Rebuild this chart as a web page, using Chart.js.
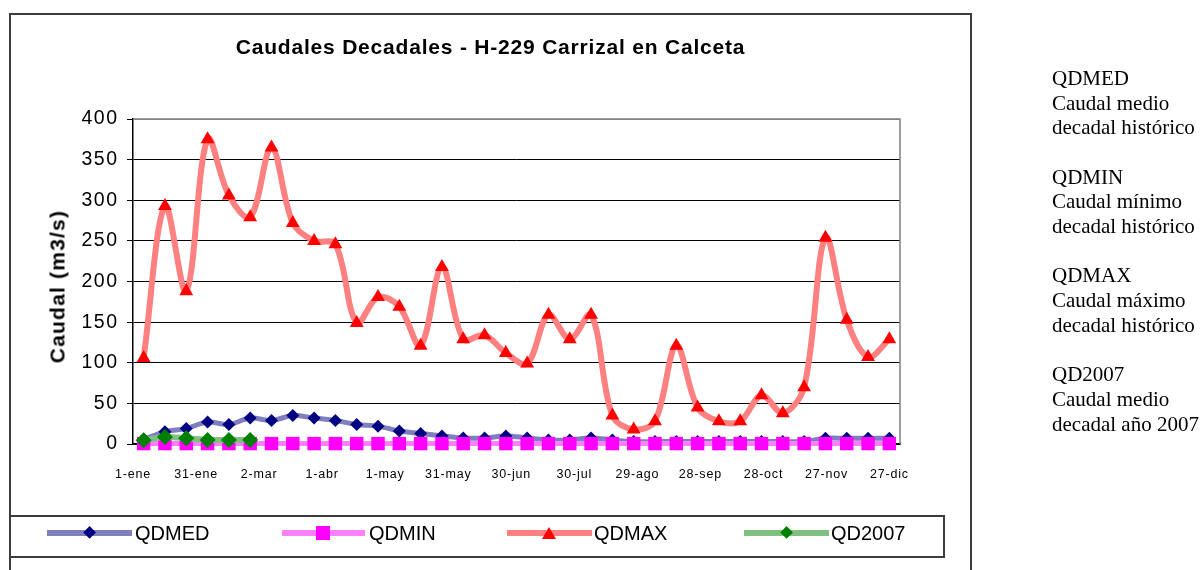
<!DOCTYPE html>
<html>
<head>
<meta charset="utf-8">
<script src="https://cdn.jsdelivr.net/npm/chart.js@4.4.1/dist/chart.umd.min.js"></script>
<style>
html,body{margin:0;padding:0;background:#fff;width:1202px;height:570px;overflow:hidden;}
#wrap{position:relative;width:1202px;height:570px;overflow:hidden;}
#frame{position:absolute;left:9px;top:13px;width:963px;height:600px;border:2px solid #3c3c3c;box-sizing:border-box;}
#legendBox{position:absolute;left:9px;top:515px;width:936px;height:43px;border:2px solid #3c3c3c;box-sizing:border-box;}
canvas{position:absolute;left:0;top:0;}
.sans{font-family:Arial,"Liberation Sans",sans-serif;color:#000;}
#title{position:absolute;left:10px;width:961px;top:35.5px;line-height:21px;text-align:center;font-weight:bold;font-size:21px;letter-spacing:0.8px;}
#ytitle{position:absolute;left:-43.2px;top:274.2px;width:200px;height:25px;line-height:25px;text-align:center;font-weight:bold;font-size:21px;letter-spacing:1.2px;transform:rotate(-90deg);white-space:nowrap;}
.lline{position:absolute;height:6px;top:529.7px;}
.ltext{position:absolute;top:523px;font-size:20px;line-height:20px;white-space:nowrap;}
.dia{position:absolute;width:9.2px;height:9.2px;transform:rotate(45deg);}
#note{position:absolute;left:1052px;top:66.1px;font-family:"Liberation Serif","Times New Roman",serif;font-size:21px;line-height:24.67px;white-space:pre;color:#000;}
</style>
</head>
<body>
<div id="wrap">
  <div id="frame"></div>
  <canvas id="c" width="1202" height="570"></canvas>
  <div id="title" class="sans">Caudales Decadales - H-229 Carrizal en Calceta</div>
  <div id="ytitle" class="sans">Caudal (m3/s)</div>
  <div id="legendBox"></div>
  <div id="legend"></div>
  <div id="note">QDMED
Caudal medio
decadal histórico

QDMIN
Caudal mínimo
decadal histórico

QDMAX
Caudal máximo
decadal histórico

QD2007
Caudal medio
decadal año 2007</div>
</div>
<script>
// ---- data ----
const categories = ["1-ene","11-ene","21-ene","1-feb","11-feb","21-feb","1-mar","11-mar","21-mar",
  "1-abr","11-abr","21-abr","1-may","11-may","21-may","1-jun","11-jun","21-jun",
  "1-jul","11-jul","21-jul","1-ago","11-ago","21-ago","1-sep","11-sep","21-sep",
  "1-oct","11-oct","21-oct","1-nov","11-nov","21-nov","1-dic","11-dic","21-dic"];
const tickLabels = ["1-ene","31-ene","2-mar","1-abr","1-may","31-may","30-jun","30-jul","29-ago","28-sep","28-oct","27-nov","27-dic"];
const tickDays = [0,30,60,90,120,150,180,210,240,270,300,330,360];
const yTicks = [0,50,100,150,200,250,300,350,400];

const qdmed = [6,15,19,27,24,32,29,35,32,29,24,22,16,13,10,7.5,7.5,10,7.5,5,5,7.5,5,3,3,3,3,3,3,3,3,3,7,7,7,7];
const qdmin = [0.5,0.5,0.5,0.5,0.5,0.5,0.5,0.5,0.5,0.5,0.5,0.5,0.5,0.5,0.5,0.5,0.5,0.5,
  0.5,0.5,0.5,0.5,0.5,0.5,0.5,0.5,0.5,0.5,0.5,0.5,0.5,0.5,0.5,0.5,0.5,0.5];
const qdmax = [106,293,188,375,306,279,365,272,250,246,149,181,169,121,218,129,134,112,
  99,159,129,159,35,18,28,121,45,28,28,60,38,70,254,153,107,129];
const qd2007 = [4.5,8.5,7,5,5,5];

const seriesNames = ["QDMED","QDMIN","QDMAX","QD2007"];

// ---- legend (HTML) ----
const legendSpec = [
  {line:[47,132], mark:89.7, text:135, lc:'#7f7fbf', shape:'dia', mc:'#000080'},
  {line:[281.7,365], mark:323, text:369, lc:'#ff80ff', shape:'sq', mc:'#ff00ff'},
  {line:[506.7,591.7], mark:549.3, text:594, lc:'#ff8080', shape:'tri', mc:'#ff0000'},
  {line:[744.3,829], mark:786.7, text:831, lc:'#80c080', shape:'dia', mc:'#008000'}
];
const leg = document.getElementById('legend');
const cy = 532.7;
legendSpec.forEach((s,i)=>{
  const l = document.createElement('div');
  l.className='lline'; l.style.left=s.line[0]+'px'; l.style.width=(s.line[1]-s.line[0])+'px'; l.style.background=s.lc;
  leg.appendChild(l);
  const m = document.createElement('div');
  if (s.shape==='dia'){ m.className='dia'; m.style.left=(s.mark-4.6)+'px'; m.style.top=(cy-4.6)+'px'; m.style.background=s.mc; }
  else if (s.shape==='sq'){ m.style.cssText='position:absolute;width:14px;height:14px;left:'+(s.mark-7)+'px;top:'+(cy-7)+'px;background:'+s.mc; }
  else { m.style.cssText='position:absolute;width:0;height:0;border-left:7px solid transparent;border-right:7px solid transparent;border-bottom:12px solid '+s.mc+';left:'+(s.mark-7)+'px;top:'+(cy-6)+'px;'; }
  leg.appendChild(m);
  const t = document.createElement('div');
  t.className='ltext sans'; t.style.left=s.text+'px'; t.textContent=seriesNames[i];
  leg.appendChild(t);
});

// ---- plugins ----
const spacingPlugin = {
  id:'spacing',
  beforeDraw(c){ c.ctx.letterSpacing = '1.5px'; },
  afterDatasetsDraw(c){ c.ctx.letterSpacing = '0.8px'; },
  afterDraw(c){ c.ctx.letterSpacing = '0px'; }
};
const framePlugin = {
  id:'plotframe',
  beforeDatasetsDraw(c){
    const {ctx, chartArea:a} = c;
    ctx.save();
    ctx.strokeStyle = '#808080'; ctx.lineWidth = 1.5;
    ctx.beginPath(); ctx.moveTo(a.left, a.top); ctx.lineTo(a.right, a.top); ctx.lineTo(a.right, a.bottom); ctx.stroke();
    ctx.restore();
  }
};

const FONT = 'Arial, "Liberation Sans", sans-serif';
const common = {tension:0.35, clip:false, pointBorderWidth:0, pointHoverRadius:0, fill:false};

new Chart(document.getElementById('c').getContext('2d'), {
  type:'line',
  data:{
    labels:categories,
    datasets:[
      Object.assign({label:seriesNames[0], data:qdmed, borderColor:'#7f7fbf', borderWidth:5,
        pointStyle:'rectRot', pointRadius:6.5, pointBackgroundColor:'#000080', pointBorderColor:'#000080', order:4}, common),
      Object.assign({label:seriesNames[1], data:qdmin, borderColor:'#ff80ff', borderWidth:5,
        pointStyle:'rect', pointRadius:9.5, pointBackgroundColor:'#ff00ff', pointBorderColor:'#ff00ff', order:3}, common),
      Object.assign({label:seriesNames[2], data:qdmax, borderColor:'#ff8080', borderWidth:6,
        pointStyle:'triangle', pointRadius:8, pointBackgroundColor:'#ff0000', pointBorderColor:'#ff0000', order:2}, common),
      Object.assign({label:seriesNames[3], data:qd2007, borderColor:'#80c080', borderWidth:6,
        pointStyle:'rectRot', pointRadius:8, pointBackgroundColor:'#008000', pointBorderColor:'#008000', order:1}, common)
    ]
  },
  options:{
    animation:false, responsive:false, maintainAspectRatio:false,
    events:[],
    layout:{padding:{left:0, top:119, right:302, bottom:0}, autoPadding:false},
    plugins:{legend:{display:false}, title:{display:false}, tooltip:{enabled:false}},
    scales:{
      x:{type:'category', display:false, offset:true},
      xd:{type:'linear', axis:'x', position:'bottom', min:0, max:365,
        afterBuildTicks:s=>{ s.ticks = tickDays.map(v=>({value:v})); },
        afterFit:s=>{ s.height = 126; },
        grid:{display:false},
        border:{display:true, color:'#000', width:1.5},
        ticks:{autoSkip:false, maxRotation:0, minRotation:0, padding:15, color:'#000', z:1,
          font:{family:FONT, size:12.5},
          callback:(v)=>tickLabels[tickDays.indexOf(v)]}
      },
      y:{position:'left', min:0, max:400,
        afterFit:s=>{ s.width = 133; },
        afterBuildTicks:s=>{ s.ticks = yTicks.map(v=>({value:v})); },
        ticks:{padding:8.5, color:'#000', font:{family:FONT, size:19.5}},
        grid:{color:c=>(c.tick && c.tick.value===400) ? '#808080' : '#000', tickColor:'#000', tickLength:6, lineWidth:1},
        border:{color:'#000', width:1.5}
      }
    }
  },
  plugins:[spacingPlugin, framePlugin]
});
</script>
</body>
</html>
